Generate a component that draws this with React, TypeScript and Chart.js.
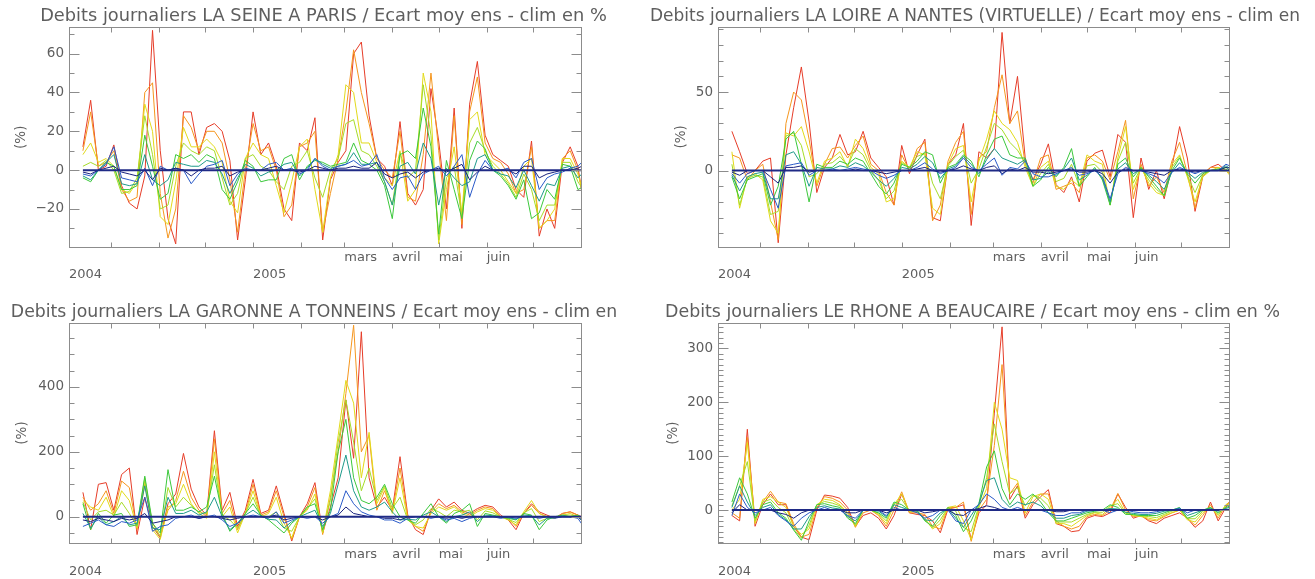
import React, { useEffect, useRef } from 'react';
import { Chart, registerables } from 'chart.js';

Chart.register(...registerables);

// ---- categories (day number counted from 1 Sep 2004) ----
const DAYS = [12, 17, 22, 27, 32, 37, 42, 47, 52, 57, 62, 67, 72, 77, 82, 87, 92, 97, 102, 107, 112, 117, 122, 127, 132, 137, 142, 147, 152, 157, 162, 167, 172, 177, 182, 187, 192, 197, 202, 207, 212, 217, 222, 227, 232, 237, 242, 247, 252, 257, 262, 267, 272, 277, 282, 287, 292, 297, 302, 307, 312, 317, 322, 327, 332, 337];
const TICK_DAYS = [3, 30, 61, 91, 122, 153, 181, 212, 242, 273, 303, 334];
const TICK_MONTHS = ['', '', '', '', '', '', 'mars', 'avril', 'mai', 'juin', '', ''];
const TICK_YEARS = ['2004', '', '', '', '2005', '', '', '', '', '', '', ''];

// ---- LA SEINE A PARIS ----
const SEINE_RED = [12, 36, 0, 2, 13, -8, -17, -20, -3, 72, 10, -25, -38, 30, 30, 8, 22, 24, 20, 5, -36, -5, 30, 8, 14, 2, -20, -26, 14, 10, 27, -36, -5, 4, 10, 60, 66, 28, 6, 2, -8, 25, -12, -18, -10, 42, 15, -20, 32, -30, 34, 56, 18, 8, 5, 2, -10, -14, 15, -34, -20, -30, 4, 12, 2, -25];
const SEINE_ORANGE = [10, 30, 2, 4, 10, -10, -16, -14, 40, 45, -12, -35, -20, 28, 22, 10, 20, 20, 14, -5, -32, 0, 24, 10, 12, 0, -24, -18, 12, 14, 20, -32, -12, 6, 30, 62, 40, 24, 6, 0, -4, 20, -14, -16, 8, 50, 10, -26, 28, -28, 30, 48, 14, 6, 4, -2, -12, -10, 12, -30, -26, -26, 6, 10, 0, -20];
const SEINE_YELLOW = [8, 14, 4, 6, 2, -10, -12, -6, 34, 20, -24, -28, -6, 22, 12, 12, 16, 12, 4, -16, -22, 6, 14, 8, 6, -8, -22, -6, 12, 16, -10, -32, -4, 8, 44, 40, 14, 14, 4, -4, -8, 10, -16, -10, 50, 30, -38, -10, 12, -22, 26, 30, 8, 4, 0, -6, -12, 2, 6, -30, -26, -20, 6, 6, -2, -16];
const SEINE_LIME = [2, 4, 2, 5, 0, -12, -11, -4, 28, 8, -20, -18, 2, 14, 10, 8, 12, 10, -4, -18, -12, 6, 8, 2, 0, -6, -10, 2, 4, 10, -4, -14, 0, 6, 24, 26, 10, 8, 2, -6, -18, 9, -4, 0, 44, 18, -36, -4, 2, -24, 14, 22, 10, 2, -2, -7, -14, -2, -10, -26, -18, -18, 4, 4, -6, -12];
const SEINE_GREEN = [-4, -6, 0, 4, 2, -10, -10, -8, 18, 2, -15, -12, 8, 6, 8, 4, 8, 6, -10, -15, -6, 5, 2, -6, -5, -5, 6, 8, -5, 2, 5, 4, 2, 3, 4, 14, 5, 3, 0, -8, -25, 8, 10, 6, 32, 12, -33, 5, -10, -25, 5, 15, 11, 0, -3, -8, -15, -5, -25, -22, -10, -15, 3, 2, -10, -8];
const SEINE_TEAL = [-3, -5, 0, 4, 8, -7, -8, -7, 8, -5, -8, -5, 4, 3, 2, 2, 5, 4, -2, -12, -4, 3, 1, -3, -1, 0, 3, 4, -3, 1, 6, 3, 1, 2, 3, 9, 3, 3, 4, -6, -18, 2, 4, -2, 14, 6, -18, 1, -4, -8, -6, 6, 8, 0, -2, -3, -9, 0, -8, -16, -7, -8, 1, 2, -4, 0];
const SEINE_BLUE = [-2, -3, 0, 3, 12, -4, -5, -6, 1, -8, 2, 0, 1, 0, -7, -2, 2, 3, 5, -8, -2, 1, 0, 0, 3, 4, 0, 1, -2, 0, 6, 2, 0, 2, 3, 5, 2, 3, 8, -4, -10, -4, -3, -10, -2, 0, 2, -3, 2, 8, -14, -2, 5, 0, 0, 1, -4, 4, 6, -10, -4, -2, -1, 1, 2, 6];
const SEINE_NAVY = [-1, -2, 0, 1, 2, -1, -2, -3, 0, -5, 1, 0, 1, 0, -3, 0, 1, 1, 2, -3, -1, 0, 0, 0, 1, 2, 0, 0, -1, 0, 2, 1, 0, 1, 1, 2, 1, 1, 4, -2, -4, -2, -1, -4, -1, 0, 1, -1, 1, 3, -5, -1, 2, 0, 0, 0, -2, 2, 2, -4, -2, -1, 0, 0, 1, 3];

// ---- LA LOIRE A NANTES ----
const LOIRE_RED = [25, 12, -2, 0, 6, 8, -46, 10, 40, 66, 31, -14, 2, 8, 23, 10, 12, 25, 8, 2, -4, -22, 16, -2, 10, 20, -30, -32, 4, 10, 30, -35, 12, 8, 14, 88, 30, 60, 8, -6, 4, 17, -9, -14, -4, -20, 6, 11, 13, -4, 23, 18, -30, 8, -12, 0, -18, 2, 28, 8, -26, -4, 2, 4, 0, -2];
const LOIRE_ORANGE = [10, 8, -6, 0, 4, -20, -44, 30, 50, 45, 20, -10, 4, 14, 15, 8, 16, 22, 4, 0, -14, -22, 10, 0, 14, 18, -32, -22, 6, 18, 25, -28, 8, 12, 40, 61, 30, 38, 4, -8, 8, 10, -12, -10, -8, -14, 8, 10, 6, -6, 12, 32, -18, 4, -10, -4, -14, 6, 18, -2, -24, -2, 2, 2, 0, -4];
const LOIRE_YELLOW = [12, -24, -4, -2, -6, -32, -40, 24, 22, 28, 12, -8, 6, 8, 12, 2, 20, 14, 2, -2, -20, -18, 6, 2, 12, 10, -24, -28, 4, 14, 16, -20, 6, 20, 38, 30, 26, 18, 2, -10, 2, 6, -10, -12, -6, -10, 10, 6, 4, -22, 8, 28, -12, 2, -8, -14, -16, 4, 10, -4, -20, -4, 0, 2, 0, -6];
const LOIRE_LIME = [4, -22, -5, -3, -4, -28, -26, 22, 24, 16, -4, -2, 4, 5, 9, 3, 14, 10, 0, -6, -18, -13, 5, 2, 9, 11, -8, -18, 3, 9, 13, -8, 1, 15, 30, 26, 18, 13, 5, -10, -2, 4, -7, -5, 4, -10, 3, 4, -1, -22, 6, 18, -8, 2, -6, -12, -16, 2, 9, -3, -14, -3, 0, 1, 1, -4];
const LOIRE_GREEN = [-4, -18, -6, -4, -2, -22, -10, 20, 25, 4, -20, 4, 2, 2, 6, 4, 8, 6, -2, -10, -15, -8, 4, 2, 6, 12, 10, -8, 2, 4, 10, 6, -4, 10, 20, 22, 10, 8, 8, -10, -6, 2, -4, 2, 14, -10, -4, 2, -6, -22, 4, 8, -4, 2, -4, -10, -16, 0, 8, -2, -8, -2, 0, 1, 2, -2];
const LOIRE_TEAL = [-3, -13, -4, -2, -1, -18, -18, 10, 12, 4, -10, 2, 1, 1, 3, 2, 5, 3, -1, -6, -10, -5, 2, 1, 4, 9, 5, -5, 1, 3, 9, 4, -2, 7, 14, 8, 6, 4, 7, -6, -5, -1, -3, 1, 8, -6, -3, 1, -5, -20, 1, 5, -2, 1, -3, -7, -12, -1, 5, -1, -5, -1, 0, 0, 3, 0];
const LOIRE_BLUE = [-2, -8, -2, 0, 0, -12, -24, 3, 4, 5, -3, 0, 0, 1, 0, 1, 2, 1, 0, -3, -5, -3, 0, 0, 2, 5, 1, -2, 0, 2, 8, 2, 0, 4, 8, -3, 2, 1, 6, -2, -4, -4, -2, 0, 2, -3, -2, 0, -4, -18, -2, 2, 0, 0, -2, -4, -8, -1, 2, 0, -2, 0, 0, 0, 4, 2];
const LOIRE_NAVY = [-1, -3, 0, 0, 0, -4, -8, 2, 2, 3, -1, 0, 0, 0, 0, 0, 1, 0, 0, -1, -2, -1, 0, 0, 1, 2, 0, -1, 0, 1, 3, 1, 0, 2, 3, -2, 1, 0, 2, -1, -1, -2, -1, 0, 1, -1, -1, 0, -2, -8, -1, 1, 0, 0, -1, -2, -3, 0, 1, 0, -1, 0, 0, 0, 2, 1];

// ---- LA GARONNE A TONNEINS ----
const GARONNE_RED = [75, -40, 100, 105, 20, 130, 150, -55, 60, -30, -65, 40, 70, 195, 85, 30, 5, 265, 20, 75, -30, 20, 115, 10, 20, 95, 10, -75, 0, 40, 105, -50, 30, 120, 360, 180, 570, 120, 30, 60, 20, 185, 5, -40, -55, 20, 55, 30, 45, 20, 10, 25, 35, 30, 5, -10, -40, 10, 40, 15, 5, -5, 10, 15, 5, -5];
const GARONNE_ORANGE = [60, 20, 40, 80, 10, 110, 90, -40, 100, -20, -60, 20, 50, 140, 60, 20, 0, 240, 10, 50, -40, 10, 100, 5, 15, 80, 0, -70, 0, 30, 90, -55, 60, 200, 380, 590, 200, 250, 20, 80, 15, 150, 0, -30, -45, 15, 40, 25, 35, 15, 5, 20, 30, 25, 0, -5, -30, 10, 35, 10, 0, -5, 10, 15, 5, -10];
const GARONNE_YELLOW = [50, 30, 20, 60, 0, 80, 50, -35, 110, -40, -70, 30, 40, 100, 40, 10, -5, 200, 0, 30, -50, 10, 80, 0, 10, 60, -20, -65, 0, 20, 70, -50, 80, 250, 420, 350, 120, 260, 40, 90, 10, 120, -10, -30, -35, 10, 30, 20, 30, 10, 0, 15, 25, 20, 0, -10, -25, 15, 50, 10, 0, -5, 5, 10, 0, -10];
const GARONNE_LIME = [45, -10, 15, 20, 5, 45, 10, -30, 120, -30, -60, 90, 30, 60, 35, 12, 10, 160, 5, -10, -35, 10, 60, 2, 0, 15, -35, -45, 0, 25, 55, -45, 50, 230, 360, 230, 80, 150, 50, 95, 25, 60, -10, -25, -10, 25, 15, 0, 20, 15, 20, -10, 18, 12, 0, -8, -18, 12, 25, -15, -5, -3, 5, 5, 2, -10];
const GARONNE_GREEN = [40, -40, 10, -20, 5, 10, -30, -25, 125, -20, -50, 145, 20, 20, 30, 15, 30, 125, 10, -45, -20, 10, 40, 5, -10, -30, -50, -20, 0, 30, 40, -40, 20, 200, 300, 120, 50, 40, 60, 100, 40, 0, -10, -20, 10, 40, 0, -20, 10, 20, 40, -30, 10, 5, 0, -5, -10, 10, 5, -40, -10, 0, 5, 0, 5, -10];
const GARONNE_TEAL = [10, -35, 0, -25, -15, 0, -25, -20, 95, -35, -40, 60, 10, 10, 20, 5, 15, 60, 0, -40, -20, 5, 20, 3, -8, -10, -35, -15, 0, 10, 20, -30, 10, 100, 190, 80, 30, 20, 30, 45, 15, -10, -8, -10, 5, 15, 0, -15, 0, 5, 15, -15, 5, 3, -3, -3, -8, 5, 3, -25, -5, -3, 3, 0, 0, -25];
const GARONNE_BLUE = [-30, -20, -10, -25, -30, -15, -20, -10, 60, -45, -30, -25, -5, 0, 5, -5, 0, 5, -10, -30, -20, 0, 5, 0, -5, 15, -20, -10, 0, -5, 0, -20, 0, 10, 80, 40, 15, 5, 0, -10, -10, -20, -5, 0, 0, -5, 0, -10, -5, -15, -5, 0, 0, 0, -5, 0, -5, 0, 0, -5, 0, -5, 0, 0, -5, -40];
const GARONNE_NAVY = [-10, -15, -5, -10, -15, -5, -10, -5, 10, -20, -15, -10, 0, 0, 0, -5, 0, 0, -5, -10, -5, 0, 0, 0, 0, 5, -10, -5, 0, 0, 0, -10, 0, 5, 30, 10, 5, 0, 0, -5, -5, -10, 0, 0, 0, 0, 0, -5, 0, -5, 0, 0, 0, 0, 0, 0, 0, 0, 0, 0, 0, 0, 0, 0, 0, -20];

// ---- LE RHONE A BEAUCAIRE ----
const RHONE_RED = [-10, -20, 150, -30, 10, 30, 10, 10, -30, -50, -55, 0, 28, 26, 22, 5, -30, -10, -5, -15, -35, -10, 30, -5, -8, -10, -20, -42, 2, 5, 10, -55, -5, 10, 180, 340, 20, 45, -15, 10, 25, 38, -25, -30, -40, -38, -15, -10, -12, -5, 30, 5, -15, -10, -20, -25, -15, -10, -5, -15, -32, -20, 15, -20, 5, 28];
const RHONE_ORANGE = [-5, -15, 135, -20, 15, 35, 15, 12, -25, -50, -45, 5, 25, 22, 15, 0, -32, -5, 0, -10, -30, 0, 34, -5, -5, -8, -30, -35, 5, 5, 15, -58, 0, 20, 120, 270, 30, 50, -10, 15, 30, 30, -20, -30, -35, -30, -12, -8, -10, 0, 31, 0, -12, -10, -18, -20, -12, -5, 0, -15, -28, -10, 10, -15, 10, 20];
const RHONE_YELLOW = [0, 20, 125, -25, 20, 25, 15, 5, -30, -45, -35, 10, 20, 18, 10, -5, -30, 0, 0, -8, -25, 10, 30, -3, -3, -15, -35, -25, 5, 8, -20, -55, 5, 40, 200, 150, 60, 55, -5, 25, 30, 20, -25, -25, -30, -20, -10, -5, -8, 5, 20, -5, -10, -12, -15, -18, -10, -5, 0, -18, -22, -5, 5, -10, 10, 15];
const RHONE_LIME = [8, 45, 90, -20, 15, 20, 5, -5, -35, -52, -28, 10, 16, 13, 8, -10, -28, 0, 0, -6, -20, 12, 20, -2, -2, -18, -33, -18, 5, -2, -32, -40, 8, 60, 160, 90, 30, 42, 8, 28, 22, 8, -22, -22, -22, -15, -8, -4, -4, 8, 12, -6, -9, -11, -12, -14, -8, -2, 2, -16, -16, -2, 5, -8, 8, 12];
const RHONE_GREEN = [15, 60, 30, -15, 10, 15, -5, -15, -37, -56, -20, 10, 12, 8, 5, -15, -25, 0, 0, -5, -15, 15, 10, 0, 0, -20, -30, -10, 5, -10, -40, -20, 12, 80, 110, 40, 10, 30, 20, 30, 15, -5, -20, -20, -15, -10, -5, -2, 0, 10, 5, -8, -8, -10, -10, -10, -5, 0, 5, -15, -10, 0, 5, -5, 5, 10];
const RHONE_TEAL = [5, 45, 15, -10, 5, 10, -8, -18, -35, -35, -12, 5, 8, 4, 2, -12, -20, 0, 0, -2, -12, 10, 5, 0, -2, -18, -20, -5, 2, -15, -32, -10, 12, 55, 60, 20, 5, 15, 10, 15, 8, -5, -15, -15, -10, -8, -2, -1, 0, 3, 2, -4, -6, -8, -8, -6, -2, 0, 4, -10, -5, 0, 3, -2, 3, 8];
const RHONE_BLUE = [-10, 30, 5, -5, 0, 5, -10, -20, -30, -15, -5, 0, 5, 0, 0, -10, -15, 0, 0, 0, -10, 5, 0, 0, -5, -15, -10, 0, 0, -20, -25, 0, 10, 30, 20, 5, 0, 5, 0, 0, 0, -5, -10, -10, -5, -5, 0, 0, 0, -5, 0, 0, -3, -5, -5, -3, 0, 0, 3, -5, 0, 0, 0, 0, 0, 5];
const RHONE_NAVY = [-5, 10, 0, 0, 0, 0, -5, -8, -15, -5, 0, 0, 0, 0, 0, -5, -5, 0, 0, 0, -5, 0, 0, 0, 0, -5, -3, 0, 0, -8, -10, 0, 3, 8, 5, 0, 0, 0, 0, 0, 0, 0, -3, -3, 0, 0, 0, 0, 0, 0, 0, 0, 0, 0, 0, 0, 0, 0, 0, 0, 0, 0, 0, 0, 0, 0];

// ---- styling ----
const MEMBER_COLORS = ['#e63c28', '#f5961e', '#e2da1a', '#a6dc28', '#3cc83c', '#1e9a8a', '#2a5ac8', '#1a237e'];
const ZERO_COLOR = '#1f2a86';
const FRAME_COLOR = '#8c8c8c';
const TEXT_COLOR = '#5e5e5e';
const FONT = "'DejaVu Sans', sans-serif";

const PANELS = [
  {
    title: 'Debits journaliers LA SEINE A PARIS / Ecart moy ens - clim en %',
    series: [SEINE_RED, SEINE_ORANGE, SEINE_YELLOW, SEINE_LIME, SEINE_GREEN, SEINE_TEAL, SEINE_BLUE, SEINE_NAVY],
    yMin: -39.6, yMax: 73.5, minor: 10, major: 20,
    left: 0, top: 0, width: 647, height: 290, yWidth: 69, rWidth: 66, xHeight: 43,
    titlePad: 6.1, titleSize: 17.8, xPad: 2, yTitlePad: 13.6,
  },
  {
    title: 'Debits journaliers LA LOIRE A NANTES (VIRTUELLE) / Ecart moy ens - clim en',
    series: [LOIRE_RED, LOIRE_ORANGE, LOIRE_YELLOW, LOIRE_LIME, LOIRE_GREEN, LOIRE_TEAL, LOIRE_BLUE, LOIRE_NAVY],
    yMin: -48.7, yMax: 91.7, minor: 10, major: 50,
    left: 650, top: 0, width: 650, height: 290, yWidth: 68, rWidth: 71, xHeight: 43,
    titlePad: 6.1, titleSize: 17.1, xPad: 2, yTitlePad: 23.3,
  },
  {
    title: 'Debits journaliers LA GARONNE A TONNEINS / Ecart moy ens - clim en',
    series: [GARONNE_RED, GARONNE_ORANGE, GARONNE_YELLOW, GARONNE_LIME, GARONNE_GREEN, GARONNE_TEAL, GARONNE_BLUE, GARONNE_NAVY],
    yMin: -81, yMax: 597, minor: 50, major: 200,
    left: 0, top: 290, width: 628, height: 289, yWidth: 69, rWidth: 47, xHeight: 36,
    titlePad: 12.2, titleSize: 17.3, xPad: 3.5, yTitlePad: 14.6,
  },
  {
    title: 'Debits journaliers LE RHONE A BEAUCAIRE / Ecart moy ens - clim en %',
    series: [RHONE_RED, RHONE_ORANGE, RHONE_YELLOW, RHONE_LIME, RHONE_GREEN, RHONE_TEAL, RHONE_BLUE, RHONE_NAVY],
    yMin: -61, yMax: 347, minor: 10, major: 100,
    left: 650, top: 290, width: 645, height: 289, yWidth: 68, rWidth: 66, xHeight: 36,
    titlePad: 12.2, titleSize: 17.4, xPad: 3.5, yTitlePad: 14.9,
  },
];

const isMajor = (v: number, major: number) => Math.abs(Math.round(v) % major) === 0;

const idlFrame = {
  id: 'idlFrame',
  afterDatasetsDraw(chart: any, _args: any, opts: any) {
    const { ctx, chartArea: a, scales } = chart;
    const xs = scales.x;
    const ys = scales.y;
    ctx.save();
    const y0 = ys.getPixelForValue(0);
    ctx.strokeStyle = ZERO_COLOR;
    ctx.lineWidth = 2;
    ctx.beginPath();
    ctx.moveTo(xs.getPixelForValue(DAYS[0]), y0);
    ctx.lineTo(a.right, y0);
    ctx.stroke();
    ctx.strokeStyle = FRAME_COLOR;
    ctx.lineWidth = 1;
    const L = Math.round(a.left) + 0.5;
    const R = Math.round(a.right) + 0.5;
    const T = Math.round(a.top) + 0.5;
    const B = Math.round(a.bottom) + 0.5;
    ctx.strokeRect(L, T, R - L, B - T);
    ctx.beginPath();
    for (const t of ys.ticks) {
      const p = Math.round(ys.getPixelForValue(t.value)) + 0.5;
      const len = isMajor(t.value, opts.major) ? 10 : 5;
      ctx.moveTo(L, p); ctx.lineTo(L + len, p);
      ctx.moveTo(R, p); ctx.lineTo(R - len, p);
    }
    for (const t of xs.ticks) {
      if (t.value <= xs.min || t.value >= xs.max) continue;
      const p = Math.round(xs.getPixelForValue(t.value)) + 0.5;
      ctx.moveTo(p, T); ctx.lineTo(p, T + 5);
      ctx.moveTo(p, B); ctx.lineTo(p, B - 5);
    }
    ctx.stroke();
    ctx.restore();
  },
};

function buildConfig(p: any) {
  const yTicks = (scale: any) => {
    const out: any[] = [];
    for (let v = Math.ceil(p.yMin / p.minor) * p.minor; v <= p.yMax; v += p.minor) out.push({ value: v });
    scale.ticks = out;
  };
  return {
    type: 'line',
    data: {
      datasets: p.series.map((vals: number[], k: number) => ({
        data: DAYS.map((d, i) => ({ x: d, y: vals[i] })),
        borderColor: MEMBER_COLORS[k],
        borderWidth: 1,
        pointRadius: 0,
        fill: false,
        tension: 0,
        order: p.series.length - 1 - k,
      })),
    },
    options: {
      animation: false,
      responsive: false,
      devicePixelRatio: 1,
      events: [],
      layout: { padding: 0 },
      plugins: {
        legend: { display: false },
        tooltip: { enabled: false },
        title: {
          display: true,
          text: p.title,
          color: TEXT_COLOR,
          fullSize: true,
          font: { family: FONT, size: p.titleSize, weight: 'normal', lineHeight: 1.2 },
          padding: { top: p.titlePad, bottom: 0 },
        },
        idlFrame: { major: p.major },
      },
      scales: {
        x: {
          type: 'linear',
          min: 3,
          max: 334,
          grid: { display: false, drawTicks: false },
          border: { display: false },
          afterBuildTicks: (scale: any) => { scale.ticks = TICK_DAYS.map((v) => ({ value: v })); },
          afterFit: (scale: any) => { scale.height = p.xHeight; },
          ticks: {
            autoSkip: false,
            maxRotation: 0,
            minRotation: 0,
            align: 'start',
            padding: p.xPad,
            color: TEXT_COLOR,
            font: { family: FONT, size: 13, lineHeight: 1.3 },
            callback: (_v: any, i: number) => [TICK_MONTHS[i], TICK_YEARS[i]],
          },
        },
        y: {
          type: 'linear',
          position: 'left',
          min: p.yMin,
          max: p.yMax,
          grid: { display: false, drawTicks: false },
          border: { display: false },
          afterBuildTicks: yTicks,
          afterFit: (scale: any) => { scale.width = p.yWidth; },
          ticks: {
            autoSkip: false,
            padding: 5,
            color: TEXT_COLOR,
            font: { family: FONT, size: 13.5 },
            callback: (v: number) => (isMajor(v, p.major) ? String(v).replace('-', '\u2212') : ''),
          },
          title: {
            display: true,
            text: '(%)',
            color: TEXT_COLOR,
            font: { family: FONT, size: 13.5, lineHeight: 1.2 },
            padding: { top: p.yTitlePad, bottom: 0 },
          },
        },
        yRight: {
          type: 'linear',
          position: 'right',
          min: p.yMin,
          max: p.yMax,
          grid: { display: false, drawTicks: false },
          border: { display: false },
          ticks: { display: false },
          afterFit: (scale: any) => { scale.width = p.rWidth; },
        },
      },
    },
    plugins: [idlFrame],
  };
}

function Panel({ p }: { p: any }) {
  const ref = useRef<HTMLCanvasElement>(null);
  useEffect(() => {
    const chart = new Chart(ref.current as HTMLCanvasElement, buildConfig(p) as any);
    return () => chart.destroy();
  }, [p]);
  return (
    <canvas
      ref={ref}
      width={p.width}
      height={p.height}
      style={{ position: 'absolute', left: p.left, top: p.top, width: p.width, height: p.height }}
    />
  );
}

export default function App() {
  return (
    <div style={{ position: 'absolute', left: 0, top: 0, width: 1315, height: 579, background: '#fff', overflow: 'hidden' }}>
      {PANELS.map((p, i) => (
        <Panel key={i} p={p} />
      ))}
    </div>
  );
}
